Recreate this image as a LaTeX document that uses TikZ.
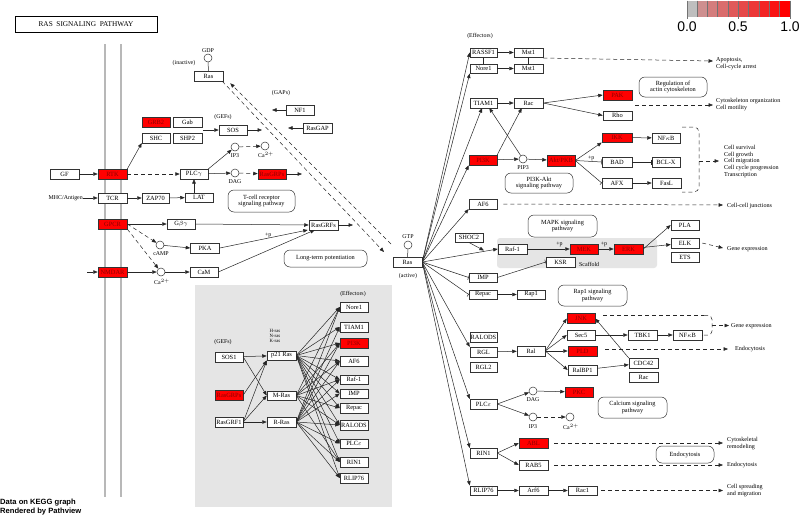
\documentclass[tikz,border=0pt]{standalone}
\usepackage{fontspec}
\setmainfont{Liberation Serif}
\newfontfamily\sansf{Liberation Sans}
\usetikzlibrary{arrows.meta}
\definecolor{zg}{HTML}{BEBEBE}
\begin{document}
\begin{tikzpicture}[x=1pt,y=-1pt,
 gb/.style={draw=black!80, line width=0.5pt, fill=white, minimum width=28pt, minimum height=9.5pt, inner sep=0pt, font=\fontsize{6.4}{6.4}\selectfont},
 rb/.style={gb, fill=red, text=red!55!black},
 pw/.style={draw=black!80, line width=0.5pt, rounded corners=6pt, align=center, inner sep=0pt, font=\fontsize{6.3}{6.9}\selectfont},
 cp/.style={circle, draw=black!80, line width=0.5pt, fill=white, minimum size=8pt, inner sep=0pt},
 lb/.style={inner sep=0pt, font=\fontsize{5.9}{6.2}\selectfont},
 outtxt/.style={inner sep=0pt, anchor=west, align=left, font=\fontsize{6.1}{6.7}\selectfont},
 ar/.style={-{Triangle[length=4.5pt,width=3.5pt]}, line width=0.5pt, draw=black!85},
 inh/.style={-{Bar[width=5pt]}, line width=0.5pt, draw=black!85},
 dsh/.style={dash pattern=on 4pt off 3pt},
 ln/.style={line width=0.5pt, draw=black!85}]
\useasboundingbox (0,0) rectangle (800,517);
\fill[white] (0,0) rectangle (800,517);
% membrane
\foreach \mx in {105,121} {
 \draw[line width=2.6pt, black!55] (\mx,44) -- (\mx,497);
 \draw[line width=1.1pt, black!28] (\mx,44) -- (\mx,497);
}
% gray regions
\fill[black!10] (195,285) rectangle (392,507);
\fill[black!10, rounded corners=3pt] (497,238) rectangle (657,268);
% title
\node[draw, line width=0.7pt, minimum width=142pt, minimum height=16pt, inner sep=0pt, font=\fontsize{7.3}{7.3}\selectfont] (title) at (86,24) {RAS\ \ SIGNALING\ \ PATHWAY};
% colour bar
\fill[zg] (687,0.5) rectangle (697,16.5);
\foreach \i in {0,...,8} {
 \pgfmathtruncatemacro\p{25+75*\i/8}
 \fill[red!\p!zg] (697+\i*10.33,0.5) rectangle (697+\i*10.33+10.33,16.5);
 \draw[black!55, line width=0.45pt] (697+\i*10.33,0.5) -- (697+\i*10.33,16.5);
}
\draw[black!55, line width=0.45pt] (687,0.5) -- (687,16.5) (790,0.5) -- (790,16.5);
\foreach \tx in {687,738,790} \draw[black!55, line width=0.45pt] (\tx,16.5) -- (\tx,19);
\node[inner sep=0pt, font=\sansf\fontsize{14}{14}\selectfont] (s0) at (687,26.5) {0.0};
\node[inner sep=0pt, font=\sansf\fontsize{14}{14}\selectfont] (s5) at (738,26.5) {0.5};
\node[inner sep=0pt, font=\sansf\fontsize{14}{14}\selectfont] (s1) at (790,26.5) {1.0};
% footer
\node[inner sep=0pt, anchor=west, align=left, font=\sansf\bfseries\fontsize{7.6}{8.2}\selectfont] (foot) at (0,507) {Data on KEGG graph\\Rendered by Pathview};

% ---------- left part ----------
\node[rb] (GRB2) at (156,122) {GRB2};
\node[gb, minimum width=29pt] (Gab) at (187.5,122) {Gab};
\node[gb] (SHC) at (156,138) {SHC};
\node[gb, minimum width=29pt] (SHP2) at (187.5,138) {SHP2};
\node[gb, minimum width=29pt] (GF) at (64.5,174) {GF};
\node[rb, minimum width=29pt] (RTK) at (112.5,174) {RTK};
\node[gb, minimum width=29pt] (TCR) at (112.5,198) {TCR};
\node[gb, minimum width=27pt] (ZAP) at (155.5,198) {ZAP70};
\node[rb, minimum width=29pt] (GPCR) at (112.5,224) {GPCR};
\node[rb, minimum width=29pt] (NMDAR) at (112.5,272) {NMDAR};
\node[lb, anchor=east] (mhc) at (83,198) {MHC/Antigen};
\node[gb] (Gby) at (181,224) {G$\beta\gamma$};
\node[gb, minimum width=29pt] (PKA) at (205,248) {PKA};
\node[gb] (CaM) at (204,272) {CaM};
\node[cp] (cAMP) at (160,245) {};
\node[lb] (cAMPl) at (161,254) {cAMP};
\node[cp] (CaL) at (161,272) {};
\node[lb] (CaLl) at (162,282) {Ca$^{2+}$};
\node[gb] (PLCg) at (194,174) {PLC$\gamma$};
\node[gb] (LAT) at (199,197.5) {LAT};
\node[cp] (IP3a) at (235,147) {};
\node[lb] (IP3al) at (235,156) {IP3};
\node[cp] (Caa) at (265,146) {};
\node[lb] (Caal) at (266,155) {Ca$^{2+}$};
\node[cp] (DAGa) at (235,173) {};
\node[lb] (DAGal) at (235,182) {DAG};
\node[rb] (RasGRPa) at (272,174) {RasGRPs};
\node[pw, minimum width=67pt, minimum height=22pt] (tcell) at (261.5,201) {T-cell receptor\\signaling pathway};
\node[cp] (GDP) at (208,58) {};
\node[lb] (GDPl) at (208,51) {GDP};
\node[lb] (inact) at (184,63) {(inactive)};
\node[gb, minimum width=29pt, minimum height=10pt] (RasI) at (208.5,76) {Ras};
\node[lb] (gaps) at (281,93) {(GAPs)};
\node[gb] (NF1) at (300,110) {NF1};
\node[gb, minimum width=29pt] (RasGAP) at (317.5,128) {RasGAP};
\node[lb] (gefs) at (223,117) {(GEFs)};
\node[gb] (SOS) at (233,130) {SOS};
\node[gb, minimum width=29pt] (RasGRF) at (323.5,225) {RasGRFs};
\node[pw, minimum width=83pt, minimum height=17pt] (ltp) at (325.5,258.5) {Long-term potentiation};
\node[cp] (GTP) at (408,245) {};
\node[lb] (GTPl) at (408,237) {GTP};
\node[gb, minimum width=29pt, minimum height=10pt] (RasA) at (407.5,262) {Ras};
\node[lb] (act) at (408,276) {(active)};

\draw[ar] (GF) -- (RTK);
\draw[ar] (RTK.north east) -- (SHC.south west);
\draw[ar, dsh] (RTK) -- (PLCg);
\draw[ar] (mhc.east) -- (TCR.west);
\draw[ar] (TCR) -- (ZAP);
\draw[ar] (ZAP) -- (LAT);
\draw[ar] (LAT.north -| PLCg) -- (PLCg.south);
\draw[ar] (GPCR) -- (Gby);
\draw[ar, dsh] (GPCR.east) -- (cAMP);
\draw[ar, dsh] (GPCR.south east) -- (CaL);
\coordinate (nmdaIn) at (87,272);
\draw[ar] (nmdaIn) -- (NMDAR.west);
\draw[ar] (NMDAR) -- (CaL);
\draw[ar] (cAMP) -- (PKA.west);
\draw[ar] (CaL) -- (CaM);
\draw[ar] (Gby.east) -- (RasGRF.west);
\draw[ar] (PKA.east) -- ([xshift=-1pt]RasGRF.south west) node[lb, pos=0.55, above] {+p};
\draw[ar] (CaM.east) -- ([xshift=6pt]RasGRF.south west);
\coordinate (grfOut) at (353,225);
\draw[ar] (RasGRF) -- (grfOut);
\draw[ar] (PLCg.north east) -- (IP3a);
\draw[ar] (PLCg) -- (DAGa);
\draw[ar, dsh] (IP3a) -- (Caa);
\draw[ar, dsh] (DAGa) -- (RasGRPa);
\coordinate (grpOut) at (302,174);
\draw[ar] (RasGRPa) -- (grpOut);
\coordinate (gabOut) at (203,130);
\draw[ar] (gabOut) -- (SOS.west);
\coordinate (sosOut) at (262,130);
\draw[ar] (SOS) -- (sosOut);
\coordinate (nf1Out) at (272,110);
\draw[ar] (NF1) -- (nf1Out);
\coordinate (gapOut) at (288,128);
\draw[ar] (RasGAP) -- (gapOut);
\draw[ln] (GDP.south) -- (RasI.north);
\draw[ln] (GTP.south) -- (RasA.north);
\coordinate (dA2) at (384,252);
\draw[ar, dsh] ([xshift=-1pt]RasI.south east) -- (dA2);
\coordinate (dB1) at (391,244);
\draw[ar, dsh] (dB1) -- ([xshift=7pt,yshift=-2pt]RasI.south east);

% ---------- gray box ----------
\node[lb] (effL) at (353,294) {(Effectors)};
\foreach \n/\t/\y in {eNore/Nore1/307, eTIAM/TIAM1/327, eAF6/AF6/361, eRaf/Raf-1/379.5, eIMP/IMP/393.5, eRepac/Repac/408, eRALODS/RALODS/425, ePLCe/PLC$\varepsilon$/443.5, eRIN1/RIN1/462, eRLIP/RLIP76/478}
 \node[gb] (\n) at (354,\y) {\t};
\node[rb] (ePI3K) at (354,343) {PI3K};
\node[lb, align=left, font=\fontsize{4.8}{5}\selectfont] (hnk) at (275,336) {H-ras\\N-ras\\K-ras};
\node[lb] (gefs2) at (223,342) {(GEFs)};
\node[gb] (SOS1) at (229,357) {SOS1};
\node[rb] (RasGRPb) at (229,395) {RasGRPs};
\node[gb] (RasGRF1) at (229,422) {RasGRF1};
\node[gb, minimum width=29pt] (p21) at (281.5,355.5) {p21 Ras};
\node[gb, minimum width=29pt] (MRas) at (281.5,395.5) {M-Ras};
\node[gb, minimum width=29pt] (RRas) at (281.5,422) {R-Ras};
\draw[ar] (SOS1) -- (p21);
\draw[ar] (SOS1.east) -- (MRas.west);
\draw[ar] (RasGRPb.east) -- (p21.south west);
\draw[ar] (RasGRF1.east) -- (p21.south west);
\draw[ar] (RasGRF1.east) -- (MRas.west);
\draw[ar] (RasGRF1) -- (RRas);
\foreach \e in {eNore,eTIAM,ePI3K,eAF6,eRaf,eIMP,eRepac,eRALODS,ePLCe,eRIN1,eRLIP}
 \draw[ar] (p21.east) -- (\e.west);
\foreach \e in {eNore,ePI3K,eAF6,eRaf,eRepac,eRALODS,eRIN1}
 \draw[ar] (MRas.east) -- (\e.west);
\foreach \e in {eNore,eTIAM,ePI3K,eAF6,eRaf,eIMP,eRALODS,ePLCe,eRIN1,eRLIP}
 \draw[ar] (RRas.east) -- (\e.west);

% ---------- right part ----------
\node[lb] (effR) at (480,36) {(Effectors)};
\node[gb, minimum width=27pt] (RASSF1) at (483.5,52.5) {RASSF1};
\node[gb, minimum width=29pt] (Mst1a) at (528.5,52.5) {Mst1};
\node[gb, minimum width=27pt] (Nore1) at (483.5,68.5) {Nore1};
\node[gb, minimum width=29pt] (Mst1b) at (528.5,68.5) {Mst1};
\node[outtxt] (apop) at (716,63.5) {Apoptosis,\\Cell-cycle arrest};
\node[gb, minimum width=27pt] (TIAM1) at (483.5,103) {TIAM1};
\node[gb, minimum width=29pt] (Rac) at (528.5,103) {Rac};
\node[rb, minimum width=29pt] (PAK) at (617.5,95) {PAK};
\node[gb, minimum width=29pt] (Rho) at (617.5,115.5) {Rho};
\node[pw, minimum width=68pt, minimum height=20pt] (regact) at (673,87) {Regulation of\\actin cytoskeleton};
\node[outtxt] (cyto) at (716,104.5) {Cytoskeleton organization\\Cell motility};
\node[rb, minimum width=30pt] (IKK) at (617,137.5) {IKK};
\node[gb] (NFkB) at (666,138) {NF$\kappa$B};
\node[gb, minimum width=30pt] (BAD) at (617,162) {BAD};
\node[gb] (BCLX) at (666,162) {BCL-X};
\node[gb, minimum width=30pt] (AFX) at (617,183) {AFX};
\node[gb, minimum width=29pt] (FasL) at (666.5,183) {FasL};
\node[outtxt] (surv) at (724,161.5) {Cell survival\\Cell growth\\Cell migration\\Cell cycle progression\\Transcription};
\node[rb, minimum height=10pt] (PI3K) at (483,160) {PI3K};
\node[cp] (PIP3) at (523,159) {};
\node[lb] (PIP3l) at (523,168) {PIP3};
\node[rb, minimum height=11pt] (Akt) at (561,160.5) {Akt/PKB};
\node[pw, minimum width=68pt, minimum height=20pt] (pi3kakt) at (539,183) {PI3K-Akt\\signaling pathway};
\node[gb] (AF6) at (483,204) {AF6};
\node[outtxt] (ccj) at (727,206) {Cell-cell junctions};
\node[pw, minimum width=69pt, minimum height=22pt] (mapk) at (562.5,226) {MAPK signaling\\pathway};
\node[gb] (SHOC2) at (469,237.5) {SHOC2};
\node[gb, minimum width=29pt] (Raf) at (512.5,249) {Raf-1};
\node[rb] (MEK) at (584,249) {MEK};
\node[rb, minimum width=29pt] (ERK) at (628.5,249) {ERK};
\node[gb, minimum width=29pt] (KSR) at (560.5,262) {KSR};
\node[lb, anchor=west] (scaf) at (579,264.5) {Scaffold};
\node[gb] (PLA) at (685,225) {PLA};
\node[gb] (ELK) at (685,243) {ELK};
\node[gb] (ETS) at (685,257) {ETS};
\node[outtxt] (gexp1) at (727,249) {Gene expression};
\node[gb] (IMP) at (483,277.5) {IMP};
\node[gb] (Repac) at (483,294.5) {Repac};
\node[gb] (Rap1) at (531,294.5) {Rap1};
\node[pw, minimum width=69pt, minimum height=21pt] (rap1p) at (592.5,295.5) {Rap1 signaling\\pathway};
\node[gb, minimum width=27pt] (RALODS) at (483.5,337) {RALODS};
\node[gb, minimum width=27pt] (RGL) at (483.5,352) {RGL};
\node[gb, minimum width=27pt] (RGL2) at (483.5,367) {RGL2};
\node[gb] (Ral) at (531,351) {Ral};
\node[rb, minimum height=10pt] (JNK) at (581,318.5) {JNK};
\node[gb] (Sec5) at (581,335) {Sec5};
\node[rb, minimum width=29pt] (PLD) at (582.5,351) {PLD};
\node[gb, minimum width=29pt] (RalBP1) at (582.5,370) {RalBP1};
\node[gb, minimum width=29pt] (TBK1) at (642.5,335) {TBK1};
\node[gb, minimum width=29pt] (NFkB2) at (687.5,335) {NF$\kappa$B};
\node[gb, minimum width=29pt] (CDC42) at (643.5,363) {CDC42};
\node[gb, minimum width=29pt] (Rac2) at (643.5,377) {Rac};
\node[outtxt] (gexp2) at (731,326) {Gene expression};
\node[outtxt] (endo1) at (735,349) {Endocytosis};
\node[gb, minimum width=27pt] (PLCe) at (483.5,404) {PLC$\varepsilon$};
\node[cp] (DAGb) at (533,391) {};
\node[lb] (DAGbl) at (533,400) {DAG};
\node[rb] (PKC) at (579,392) {PKC};
\node[cp] (IP3b) at (533,417) {};
\node[lb] (IP3bl) at (533,427) {IP3};
\node[cp] (Cab) at (570,417) {};
\node[lb] (Cabl) at (571,427) {Ca$^{2+}$};
\node[pw, minimum width=69pt, minimum height=21pt] (calc) at (632.5,407.5) {Calcium signaling\\pathway};
\node[gb, minimum width=27pt] (RIN1) at (483.5,453) {RIN1};
\node[rb, minimum width=29pt] (ABL) at (533.5,443) {ABL};
\node[gb, minimum width=29pt] (RAB5) at (533.5,465) {RAB5};
\node[outtxt] (cytorem) at (727,443.5) {Cytoskeletal\\remodeling};
\node[pw, minimum width=58pt, minimum height=17pt] (endop) at (685,454.5) {Endocytosis};
\node[outtxt] (endo2) at (727,465.5) {Endocytosis};
\node[gb, minimum width=27pt] (RLIP) at (483.5,490.5) {RLIP76};
\node[gb, minimum width=29pt] (Arf6) at (533.5,490.5) {Arf6};
\node[gb, minimum width=29pt] (Rac1) at (582.5,490.5) {Rac1};
\node[outtxt] (spread) at (727,490.5) {Cell spreading\\and migration};

% Ras fan
\foreach \t in {RASSF1.west, Nore1.south west, PI3K.south west, AF6.south west, Raf.west, RGL.north west, PLCe.north west, RIN1.north west, RLIP.north west}
 \draw[ar] (RasA.east) -- (\t);
\draw[ar] (RasA.east) -- ([xshift=-1.5pt]TIAM1.south);
\draw[inh] (RasA.east) -- (IMP.west);
\draw[inh] (RasA.east) -- (Repac.west);
\coordinate (shocT) at (484,250.5);
\draw[ar] (SHOC2.south) -- (shocT);
% effectors top
\draw[ln] (RASSF1) -- (Nore1);
\draw[ln] (Mst1a) -- (Mst1b);
\draw[ar] (RASSF1) -- (Mst1a);
\draw[ar] (Nore1) -- (Mst1b);
\coordinate (mstOut) at (713,61);
\draw[ar, dsh] ([yshift=-0.5pt]Mst1a.south east) -- (mstOut);
\draw[ar] (TIAM1) -- (Rac);
\draw[ar] (Rac.east) -- (PAK.west);
\draw[ar] (Rac.east) -- (Rho.west);
\coordinate (racIn) at (635,105);
\coordinate (racOut) at (713,105);
\draw[ar, dsh] (racIn) -- (racOut);
\draw[ar] (PI3K) -- (PIP3);
\draw[ar] (PIP3) -- (Akt);
\draw[ar] (PI3K.north east) -- ([xshift=8pt]Rac.south west);
\draw[ar] (PIP3) -- ([xshift=-8pt]TIAM1.south east);
\draw[ar] (Akt.east) -- (IKK.south west);
\draw[inh] (Akt.east) -- (BAD.west) node[lb, pos=0.6, above] {+p};
\draw[inh] (Akt.east) -- (AFX.west);
\draw[ar] (IKK) -- (NFkB);
\draw[inh] (BAD) -- (BCLX);
\draw[ar] (AFX) -- (FasL);
\coordinate (brT) at (682,127);
\coordinate (brB) at (682,192);
\coordinate (brM) at (699,161);
\coordinate (brOut) at (719,161);
\draw[ln, dsh, rounded corners=5pt] (brT) -| (brM) |- (brB);
\draw[ar, dsh] (brM) -- (brOut);
\coordinate (af6Out) at (723,205);
\draw[ar, dsh] ([xshift=6pt]AF6.east) -- (af6Out);
% MAPK
\draw[ar] (Raf) -- (MEK) node[lb, pos=0.5, above=2pt, xshift=11pt] {+p};
\draw[ar] (MEK) -- (ERK) node[lb, pos=0.5, above=2pt, xshift=-2pt] {+p};
\draw[ar] (ERK.east) -- (PLA.west);
\draw[ar] (ERK) -- (ELK);
\coordinate (elkOut) at (723,248);
\draw[ar, dsh] ([xshift=3pt]ELK.east) -- (elkOut);
\draw[inh] (IMP.east) -- (KSR.west);
\draw[ar] (Repac) -- (Rap1);
% Ral
\draw[ar] (RGL) -- (Ral);
\draw[ar] (Ral.east) -- (JNK.west);
\draw[ar] (Ral.east) -- (Sec5.west);
\draw[ar] (Ral.east) -- (PLD.west);
\draw[ar] (Ral.east) -- (RalBP1.west);
\draw[ar] (Sec5) -- (TBK1);
\draw[ar] (TBK1) -- (NFkB2);
\draw[ar] (RalBP1) -- (CDC42);
\draw[ar] (CDC42.north west) -- (JNK.east);
\coordinate (jnkA) at (603,315.5);
\coordinate (jbT) at (704,315.5);
\coordinate (jbM) at (712,325.5);
\coordinate (jbB) at (703,335);
\coordinate (jbOut) at (729,325.5);
\draw[ln, dsh] (jnkA) -- (jbT);
\draw[ln, dsh, rounded corners=4pt] (jbT) -| (jbM) |- (jbB);
\draw[ln] (NFkB2.east) -- (jbB);
\draw[ar, dsh] (jbM) -- (jbOut);
\coordinate (pldOut) at (728,349);
\draw[ar, dsh] ([xshift=8pt,yshift=2pt]PLD.east) -- (pldOut);
% PLCe
\draw[ar] (PLCe.east) -- (DAGb);
\draw[ar] (PLCe.east) -- (IP3b);
\draw[ar] (DAGb) -- (PKC);
\draw[ar, dsh] (IP3b) -- (Cab);
% RIN1
\draw[ar] (RIN1.east) -- (ABL.west);
\draw[ar] (RIN1.east) -- (RAB5.west);
\coordinate (ablOut) at (723,443);
\draw[ar, dsh] ([xshift=6pt]ABL.east) -- (ablOut);
\coordinate (rab5Out) at (723,465);
\draw[ar, dsh] ([xshift=6pt]RAB5.east) -- (rab5Out);
\draw[ar] (RLIP) -- (Arf6);
\draw[ar] (Arf6) -- (Rac1);
\coordinate (rac1Out) at (723,490.5);
\draw[ar, dsh] ([xshift=4pt]Rac1.east) -- (rac1Out);
\end{tikzpicture}
\end{document}
